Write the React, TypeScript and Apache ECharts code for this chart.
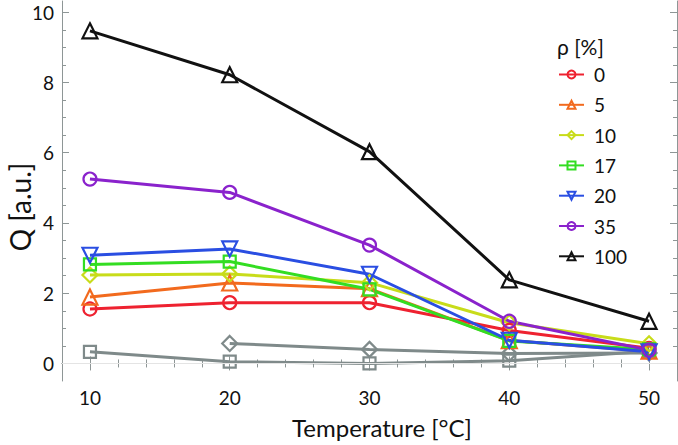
import React, { useEffect, useRef } from "react";
import * as echarts from "echarts";

const temperatures = [10, 20, 30, 40, 50];
const rho0 = [1.55, 1.73, 1.73, 0.94, 0.43];
const rho5 = [1.89, 2.29, 2.13, 0.65, 0.35];
const rho10 = [2.52, 2.55, 2.3, 1.16, 0.56];
const rho17 = [2.82, 2.9, 2.11, 0.64, 0.4];
const rho20 = [3.08, 3.26, 2.54, 0.66, 0.33];
const rho35 = [5.25, 4.87, 3.37, 1.2, 0.38];
const rho100 = [9.47, 8.22, 6.03, 2.38, 1.2];
const grayDiamond = [null, 0.57, 0.4, 0.28, 0.3];
const graySquare = [0.33, 0.05, 0.0, 0.08, 0.35];

const legendNames = ["0", "5", "10", "17", "20", "35", "100"];
const xMajor = [10, 20, 30, 40, 50];
const xMinor = [12, 14, 16, 18, 22, 24, 26, 28, 32, 34, 36, 38, 42, 44, 46, 48];
const yMajor = [0, 2, 4, 6, 8, 10];
const yMinor = [0.5, 1, 1.5, 2.5, 3, 3.5, 4.5, 5, 5.5, 6.5, 7, 7.5, 8.5, 9, 9.5];

const FONT = "Lato, 'Open Sans', sans-serif";
const AXIS_COLOR = "#8e9696";

export default function App() {
  const ref = useRef<HTMLDivElement>(null);
  useEffect(() => {
    if (!ref.current) return;
    const chart = echarts.init(ref.current, undefined, { renderer: "svg" });

    const mk = (
      name: string,
      vals: (number | null)[],
      color: string,
      symbol: string,
      size: number,
      rotate = 0,
      extra: any = {}
    ) => ({
      type: "line",
      name,
      data: temperatures.map((t, i) => [t, vals[i]]),
      symbol,
      symbolSize: size,
      symbolRotate: rotate,
      showAllSymbol: true,
      lineStyle: { color, width: 3 },
      itemStyle: { color: "rgba(255,255,255,0)", borderColor: color, borderWidth: 2.2 },
      emphasis: { disabled: true },
      ...extra,
    });

    const xBase = {
      type: "value",
      min: 8,
      max: 52,
      splitLine: { show: false },
      axisLabel: { show: false },
    };
    const yBase = {
      type: "value",
      min: -0.5,
      max: 10.32,
      splitLine: { show: false },
      axisLabel: { show: false },
    };
    const tickStyle = { color: AXIS_COLOR, width: 1 };

    chart.setOption({
      animation: false,
      grid: { left: 62, right: 1, top: 1, bottom: 64, outerBoundsMode: "none" },
      xAxis: [
        {
          ...xBase,
          position: "bottom",
          axisLine: { show: true, lineStyle: tickStyle },
          axisTick: { show: true, inside: true, length: 7, customValues: xMajor, lineStyle: tickStyle },
          axisLabel: { show: true, customValues: xMajor, color: "#111", fontSize: 19, fontFamily: FONT, margin: 7 },
        },
        {
          ...xBase,
          position: "bottom",
          axisLine: { show: false },
          axisTick: { show: true, inside: true, length: 4, customValues: xMinor, lineStyle: tickStyle },
        },
        {
          ...xBase,
          position: "top",
          axisLine: { show: true, lineStyle: tickStyle },
          axisTick: { show: true, inside: true, length: 7, customValues: xMajor, lineStyle: tickStyle },
        },
        {
          ...xBase,
          position: "top",
          axisLine: { show: false },
          axisTick: { show: true, inside: true, length: 4, customValues: xMinor, lineStyle: tickStyle },
        },
      ],
      yAxis: [
        {
          ...yBase,
          position: "left",
          axisLine: { show: true, lineStyle: tickStyle },
          axisTick: { show: true, inside: true, length: 7, customValues: yMajor, lineStyle: tickStyle },
          axisLabel: { show: true, customValues: yMajor, color: "#111", fontSize: 19, fontFamily: FONT, margin: 8 },
        },
        {
          ...yBase,
          position: "left",
          axisLine: { show: false },
          axisTick: { show: true, inside: true, length: 4, customValues: yMinor, lineStyle: tickStyle },
        },
        {
          ...yBase,
          position: "right",
          axisLine: { show: true, lineStyle: tickStyle },
          axisTick: { show: true, inside: true, length: 7, customValues: yMajor, lineStyle: tickStyle },
        },
        {
          ...yBase,
          position: "right",
          axisLine: { show: false },
          axisTick: { show: true, inside: true, length: 4, customValues: yMinor, lineStyle: tickStyle },
        },
      ],
      legend: {
        data: legendNames,
        orient: "vertical",
        left: 553,
        top: 60,
        itemWidth: 25,
        itemHeight: 10,
        itemGap: 11.3,
        selectedMode: false,
        textStyle: { fontSize: 19, color: "#111", fontFamily: FONT, padding: [0, 0, 0, 5] },
      },
      graphic: [
        {
          type: "text",
          x: 557,
          y: 46,
          style: { text: "ρ [%]", fontSize: 21, fill: "#111", fontFamily: FONT, verticalAlign: "middle" },
        },
        {
          type: "text",
          x: 382,
          y: 427,
          style: {
            text: "Temperature [°C]",
            fontSize: 24,
            fill: "#111",
            fontFamily: FONT,
            align: "center",
            verticalAlign: "middle",
          },
        },
        {
          type: "text",
          x: 20,
          y: 207,
          rotation: Math.PI / 2,
          style: {
            text: "Q [a.u.]",
            fontSize: 28,
            fill: "#111",
            fontFamily: FONT,
            align: "center",
            verticalAlign: "middle",
          },
        },
      ],
      series: [
        mk("gs", graySquare, "#7f8a8a", "rect", 12, 0, {
          markLine: {
            silent: true,
            symbol: ["none", "none"],
            label: { show: false },
            lineStyle: { color: "#e4e4e4", width: 1, type: "solid" },
            data: [{ yAxis: 0 }],
          },
        }),
        mk("gd", grayDiamond, "#7f8a8a", "diamond", 15),
        mk("0", rho0, "#ee2230", "circle", 13),
        mk("5", rho5, "#f26a1e", "triangle", 15),
        mk("10", rho10, "#c8dc1a", "diamond", 15),
        mk("17", rho17, "#33dd22", "rect", 12),
        mk("20", rho20, "#2a4ee2", "triangle", 15, 180),
        mk("35", rho35, "#8a22cc", "circle", 13),
        mk("100", rho100, "#111111", "triangle", 15),
      ],
    });
    return () => chart.dispose();
  }, []);
  return (
    <div
      ref={ref}
      style={{ position: "fixed", left: 0, top: 0, width: 678, height: 445, background: "#fff" }}
    />
  );
}
